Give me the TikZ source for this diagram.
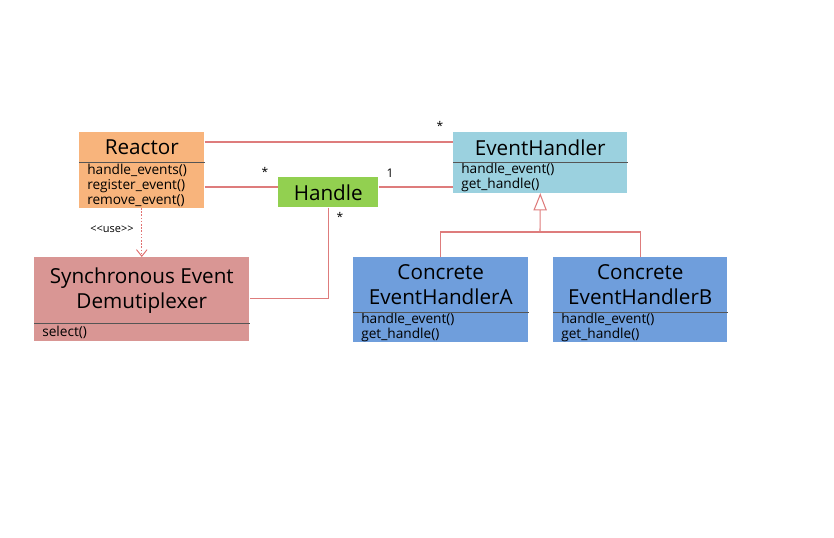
\documentclass[tikz,border=0pt]{standalone}
\usepackage{fontspec}
\setmainfont{Open Sans}
\usetikzlibrary{arrows.meta}

\definecolor{reactorfill}{HTML}{F8B47C}
\definecolor{handlerfill}{HTML}{9BD1DF}
\definecolor{handlefill}{HTML}{92D050}
\definecolor{demuxfill}{HTML}{D99694}
\definecolor{concretefill}{HTML}{6F9EDC}
\definecolor{linkred}{HTML}{DE7C7C}
\definecolor{sepgray}{HTML}{555555}

\tikzset{
  classname/.style={fill=#1, inner sep=0pt, anchor=north west, align=center,
    font=\fontsize{15.5}{18.75}\selectfont},
  classops/.style={fill=#1, inner xsep=6pt, inner ysep=0pt, anchor=north west,
    align=left, font=\fontsize{10.25}{11.25}\selectfont},
  sepline/.style={draw=sepgray, line width=0.6pt},
  assoc/.style={draw=linkred, line width=0.8pt},
  uses/.style={draw=linkred!90!red, line width=0.7pt, dash pattern=on 1.2pt off 1.2pt,
    -{Straight Barb[length=5pt, width=8pt, line width=0.7pt]}},
  inherit/.style={draw=linkred, line width=0.8pt,
    -{Triangle[open, length=13pt, width=10pt, line width=0.8pt]}},
  mult/.style={font=\fontsize{9}{9}\selectfont, inner sep=0pt}
}

\begin{document}
\begin{tikzpicture}[x=0.75pt, y=-0.75pt]
    % --- 画布 ---
    \useasboundingbox (0,0) rectangle (834,537);

    % --- Reactor ---
    \node[classname=reactorfill, minimum width=93.75pt, minimum height=22.5pt]
        (reactor) at (79,132) {Reactor};
    \node[classops=reactorfill, text width=81.75pt, minimum height=33.75pt]
        (reactorops) at (reactor.south west)
        {handle\_events()\\register\_event()\\remove\_event()};
    \draw[sepline] (reactor.south west) -- (reactor.south east);

    % --- EventHandler ---
    \node[classname=handlerfill, minimum width=130.5pt, minimum height=22.5pt]
        (handler) at (453,132) {EventHandler};
    \node[classops=handlerfill, text width=118.5pt, minimum height=22.5pt]
        (handlerops) at (handler.south west)
        {handle\_event()\\get\_handle()};
    \draw[sepline] (handler.south west) -- (handler.south east);

    % --- Handle ---
    \node[classname=handlefill, minimum width=75pt, minimum height=22.5pt]
        (handle) at (278,177) {Handle};

    % --- Synchronous Event Demutiplexer ---
    \node[classname=demuxfill, minimum width=161.25pt, minimum height=49.5pt]
        (demux) at (34,257) {Synchronous Event\\Demutiplexer};
    \node[classops=demuxfill, text width=149.25pt, minimum height=12.75pt]
        (demuxops) at (demux.south west) {select()};
    \draw[sepline] (demux.south west) -- (demux.south east);

    % --- Concrete handlers ---
    \node[classname=concretefill, minimum width=131.25pt, minimum height=41.25pt]
        (concA) at (353,257) {Concrete\\EventHandlerA};
    \node[classops=concretefill, text width=119.25pt, minimum height=21.75pt]
        (concAops) at (concA.south west) {handle\_event()\\get\_handle()};
    \draw[sepline] (concA.south west) -- (concA.south east);

    \node[classname=concretefill, minimum width=130.5pt, minimum height=41.25pt]
        (concB) at (553,257) {Concrete\\EventHandlerB};
    \node[classops=concretefill, text width=118.5pt, minimum height=21.75pt]
        (concBops) at (concB.south west) {handle\_event()\\get\_handle()};
    \draw[sepline] (concB.south west) -- (concB.south east);

    % --- 关联线 ---
    \coordinate (toprow) at (0,142);
    \coordinate (handlerow) at (0,187);
    \draw[assoc] (reactor.east |- toprow) -- (handler.west |- toprow);
    \draw[assoc] (reactorops.east |- handlerow) -- (handle.west |- handlerow);
    \draw[assoc] (handle.east |- handlerow) -- (handlerops.west |- handlerow);
    \draw[assoc] (handle.south) |- ([yshift=-6pt]demux.east);

    % 多重性
    \node[mult] (mtop) at (440,126) {*};
    \node[mult] (mreactor) at (265,172) {*};
    \node[mult] (mone) at (390,173) {1};
    \node[mult] (mdown) at (340,217) {*};

    % --- 依赖 <<use>> ---
    \draw[uses] (reactorops.south) -- (demux.north);
    \node[font=\fontsize{8.25}{8.25}\selectfont, inner sep=0pt] (uselabel) at (112,229)
        {{<}{<}use{>}{>}};

    % --- 继承 ---
    \coordinate (inhjoin) at (540,232);
    \draw[assoc] (concA.north) |- (inhjoin) -| (concB.north);
    \draw[inherit] (inhjoin) -- (handlerops.south);

\end{tikzpicture}
\end{document}
